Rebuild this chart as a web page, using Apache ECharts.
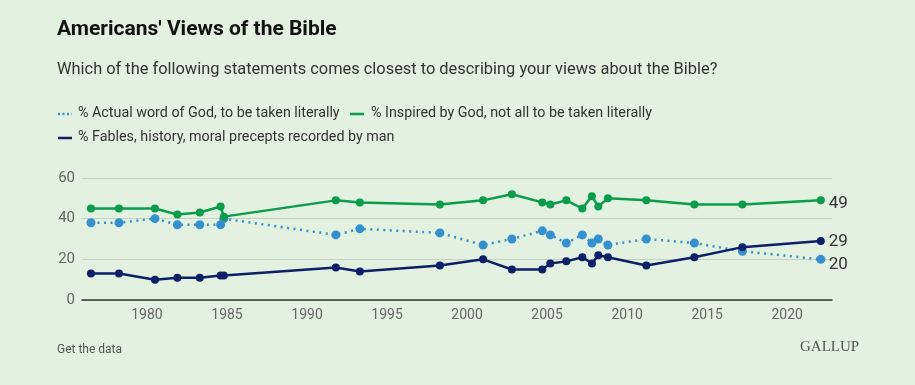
<!DOCTYPE html>
<html>
<head>
<meta charset="utf-8">
<script src="https://cdn.jsdelivr.net/npm/echarts@6/dist/echarts.min.js"></script>
<style>
html,body{margin:0;padding:0;background:#e3f1e0;}
#c{width:915px;height:385px;}
</style>
</head>
<body>
<div id="c"></div>
<script>
const years = [1976.5, 1978.25, 1980.5, 1981.9, 1983.3, 1984.6, 1984.8, 1991.8, 1993.3, 1998.3, 2001.0, 2002.8, 2004.7, 2005.2, 2006.2, 2007.2, 2007.8, 2008.2, 2008.8, 2011.2, 2014.2, 2017.2, 2022.1];
const literal = [38,38,40,37,37,37,40,32,35,33,27,30,34,32,28,32,28,30,27,30,28,24,20];
const inspired = [45,45,45,42,43,46,41,49,48,47,49,52,48,47,49,45,51,46,50,49,47,47,49];
const fables = [13,13,10,11,11,12,12,16,14,17,20,15,15,18,19,21,18,22,21,17,21,26,29];
const xTicks = [1980,1985,1990,1995,2000,2005,2010,2015,2020];
const yTicks = [0,20,40,60];
const seriesNames = ['% Actual word of God, to be taken literally','% Inspired by God, not all to be taken literally','% Fables, history, moral precepts recorded by man'];
const title = "Americans' Views of the Bible";
const subtitle = 'Which of the following statements comes closest to describing your views about the Bible?';

const C_BLUE = '#3590cf', C_GREEN = '#0a9c4c', C_NAVY = '#0c1f68';
const pair = arr => arr.map((v,i)=>[years[i], v]);
const font = 'Roboto, "Liberation Sans", sans-serif';

const chart = echarts.init(document.getElementById('c'), null, {renderer:'canvas'});
function mkSeries(name, data, color, dotted, size, labelOffset){
  return {
    name, type:'line', data: pair(data), symbol:'circle', symbolSize:size,
    showSymbol:true,
    itemStyle:{color},
    lineStyle:{color, width:2.5, type: dotted?[2,4.5]:'solid'},
    emphasis:{disabled:true},
    endLabel:{show:true, distance:8, offset:[0,labelOffset], color:'#333', fontSize:17, fontFamily:font,
      formatter: p => String(p.value[1])},
    z: dotted?2:3
  };
}
chart.setOption({
  backgroundColor:'#e3f1e0',
  animation:false,
  graphic:[
    {type:'text', left:57, top:19, style:{text:title, font:'bold 21px '+font, fill:'#111'}},
    {type:'text', left:57, top:62, style:{text:subtitle, font:'16.4px '+font, fill:'#333'}},
    {type:'line', shape:{x1:58,y1:114,x2:72,y2:114}, style:{stroke:C_BLUE, lineWidth:2.5, lineDash:[2,2.5]}},
    {type:'text', left:78, top:106, style:{text:seriesNames[0], font:'14.3px '+font, fill:'#333'}},
    {type:'line', shape:{x1:350,y1:114,x2:364,y2:114}, style:{stroke:C_GREEN, lineWidth:2.5}},
    {type:'text', left:371, top:106, style:{text:seriesNames[1], font:'14.3px '+font, fill:'#333'}},
    {type:'line', shape:{x1:58,y1:138,x2:72,y2:138}, style:{stroke:C_NAVY, lineWidth:2.5}},
    {type:'text', left:78, top:130, style:{text:seriesNames[2], font:'14.3px '+font, fill:'#333'}},
    {type:'text', left:57, top:344, style:{text:'Get the data', font:'12px '+font, fill:'#555'}},
    {type:'text', left:800, top:340, style:{text:'GALLUP', font:'15px "Liberation Serif", "DejaVu Serif", serif', fill:'#555'}}
  ],
  grid:{left:82, right:83, top:178, bottom:85, containLabel:false},
  xAxis:{type:'value', min:1975.94, max:2022.8,
    axisLine:{show:true, lineStyle:{color:'#333', width:1.5}},
    axisTick:{show:false}, splitLine:{show:false},
    axisLabel:{customValues:xTicks, color:'#666', fontSize:14, fontFamily:font, margin:8, formatter: v=>String(v)}
  },
  yAxis:{type:'value', min:0, max:60, interval:20,
    axisLine:{show:false}, axisTick:{show:false},
    splitLine:{show:true, lineStyle:{color:'#c5d3c2', width:1}},
    axisLabel:{color:'#666', fontSize:15, fontFamily:font, margin:7}
  },
  series:[
    mkSeries(seriesNames[0], literal, C_BLUE, true, 9, 5),
    mkSeries(seriesNames[1], inspired, C_GREEN, false, 8, 3),
    mkSeries(seriesNames[2], fables, C_NAVY, false, 8, 1)
  ]
});
</script>
</body>
</html>
